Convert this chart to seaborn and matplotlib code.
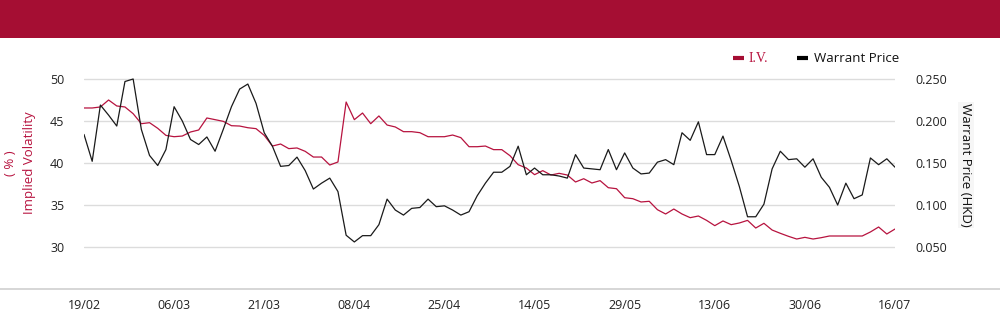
import matplotlib
matplotlib.use("Agg")
import matplotlib.pyplot as plt
from matplotlib.lines import Line2D
from matplotlib.patches import Rectangle
import numpy as np
import pandas as pd
import seaborn as sns

# ---- data ----
tick_labels = ["19/02", "06/03", "21/03", "08/04", "25/04", "14/05", "29/05", "13/06", "30/06", "16/07"]
tick_positions = [0, 11, 22, 33, 44, 55, 66, 77, 88, 99]

iv = [46.55, 46.55, 46.67, 47.5, 46.79, 46.67, 45.87, 44.68, 44.8, 44.13,
      43.29, 43.13, 43.21, 43.69, 43.93, 45.36, 45.16, 44.96, 44.44, 44.4,
      44.2, 44.09, 43.29, 42.02, 42.26, 41.71, 41.79, 41.39, 40.71, 40.71,
      39.76, 40.12, 47.26, 45.16, 45.95, 44.68, 45.6, 44.52, 44.29, 43.73,
      43.73, 43.61, 43.13, 43.13, 43.13, 43.33, 43.02, 41.94, 41.94, 42.02,
      41.59, 41.59, 40.87, 39.8, 39.4, 38.61, 39.09, 38.57, 38.77, 38.57,
      37.74, 38.13, 37.62, 37.9, 37.06, 36.94, 35.87, 35.75, 35.36, 35.44,
      34.44, 33.93, 34.52, 33.93, 33.49, 33.69, 33.17, 32.54, 33.1, 32.66,
      32.86, 33.17, 32.26, 32.82, 32.02, 31.63, 31.27, 30.95, 31.15, 30.95,
      31.11, 31.31, 31.31, 31.31, 31.31, 31.31, 31.79, 32.38, 31.55, 32.14]

price = [0.184, 0.152, 0.219, 0.207, 0.194, 0.247, 0.250, 0.190, 0.159, 0.147,
         0.166, 0.217, 0.200, 0.178, 0.172, 0.181, 0.164, 0.190, 0.217, 0.238,
         0.244, 0.221, 0.186, 0.170, 0.146, 0.147, 0.157, 0.141, 0.119, 0.126,
         0.132, 0.116, 0.064, 0.056, 0.0635, 0.0635, 0.0766, 0.107, 0.094, 0.088,
         0.096, 0.097, 0.107, 0.098, 0.099, 0.094, 0.088, 0.092, 0.111, 0.126,
         0.139, 0.139, 0.146, 0.170, 0.136, 0.144, 0.136, 0.136, 0.1345, 0.132,
         0.160, 0.144, 0.143, 0.142, 0.166, 0.142, 0.162, 0.144, 0.137, 0.138,
         0.151, 0.154, 0.148, 0.186, 0.177, 0.199, 0.160, 0.160, 0.182, 0.153,
         0.122, 0.086, 0.086, 0.101, 0.143, 0.164, 0.154, 0.155, 0.145, 0.155,
         0.133, 0.121, 0.100, 0.126, 0.1075, 0.112, 0.156, 0.148, 0.155, 0.145]

left_ticks = [30, 35, 40, 45, 50]
right_ticks = [0.050, 0.100, 0.150, 0.200, 0.250]

df = pd.DataFrame({"idx": np.arange(len(iv)), "iv": iv, "price": price})

RED = "#B7133F"
HEADER = "#A50E33"

sns.set_theme(style="white")
plt.rcParams["font.family"] = ["Open Sans", "DejaVu Sans"]

fig = plt.figure(figsize=(10, 3.24), dpi=100)
ax = fig.add_axes([0.084, 1 - 289 / 324, 0.811, (289 - 58) / 324])
ax2 = ax.twinx()

sns.lineplot(data=df, x="idx", y="iv", ax=ax, color=RED, linewidth=0.9, zorder=3)
sns.lineplot(data=df, x="idx", y="price", ax=ax2, color="#1a1a1a", linewidth=0.9, zorder=3)

ax.set_xlim(0, 99)
ax.set_ylim(25, 52.5)
ax2.set_ylim(0.0, 0.275)

ax.set_yticks(left_ticks)
ax.set_yticklabels([str(t) for t in left_ticks])
ax2.set_yticks(right_ticks)
ax2.set_yticklabels([f"{t:.3f}" for t in right_ticks])
ax.set_xticks(tick_positions)
ax.set_xticklabels(tick_labels)

for a in (ax, ax2):
    for s in a.spines.values():
        s.set_visible(False)
    a.set_xlabel("")
    a.set_ylabel("")
    a.tick_params(axis="both", length=0, labelsize=9, colors="#222222")
ax.tick_params(axis="y", pad=14)
ax2.tick_params(axis="y", pad=15)
ax.tick_params(axis="x", pad=7)

ax.grid(axis="y", color="#dcdcdc", linewidth=1)
ax.grid(axis="x", visible=False)
ax2.grid(False)

# header band
fig.add_artist(Rectangle((0, 1 - 37.7 / 324), 1, 37.7 / 324, transform=fig.transFigure,
                         facecolor=HEADER, edgecolor="none"))
# bottom baseline spanning full width
fig.add_artist(Line2D([0, 1], [1 - 289.3 / 324] * 2, transform=fig.transFigure,
                      color="#cfcfcf", linewidth=1.2))

# axis titles
fig.text(0.030, 1 - 163 / 324, "Implied Volatility", rotation=90, color=RED,
         fontsize=9.5, ha="center", va="center")
fig.text(0.011, 1 - 163 / 324, "( % )", rotation=90, color=RED,
         fontsize=9.5, ha="center", va="center")
fig.text(0.966, 1 - 165 / 324, "Warrant Price (HKD)", rotation=270, color="#111111",
         fontsize=9.5, ha="center", va="center",
         bbox=dict(facecolor="#f6f6f6", edgecolor="none", pad=1.0))

# legend
leg_y = 1 - 58 / 324
fig.add_artist(Line2D([0.733, 0.744], [leg_y, leg_y], transform=fig.transFigure,
                      color=HEADER, linewidth=3, solid_capstyle="butt"))
fig.text(0.749, leg_y, "I.V.", color=RED, fontsize=10, ha="left", va="center",
         family=["Liberation Serif", "DejaVu Serif"])
fig.add_artist(Line2D([0.797, 0.808], [leg_y, leg_y], transform=fig.transFigure,
                      color="black", linewidth=3, solid_capstyle="butt"))
fig.text(0.814, leg_y, "Warrant Price", color="#111111", fontsize=9.5, ha="left", va="center")

fig.savefig("out.png", dpi=100)
